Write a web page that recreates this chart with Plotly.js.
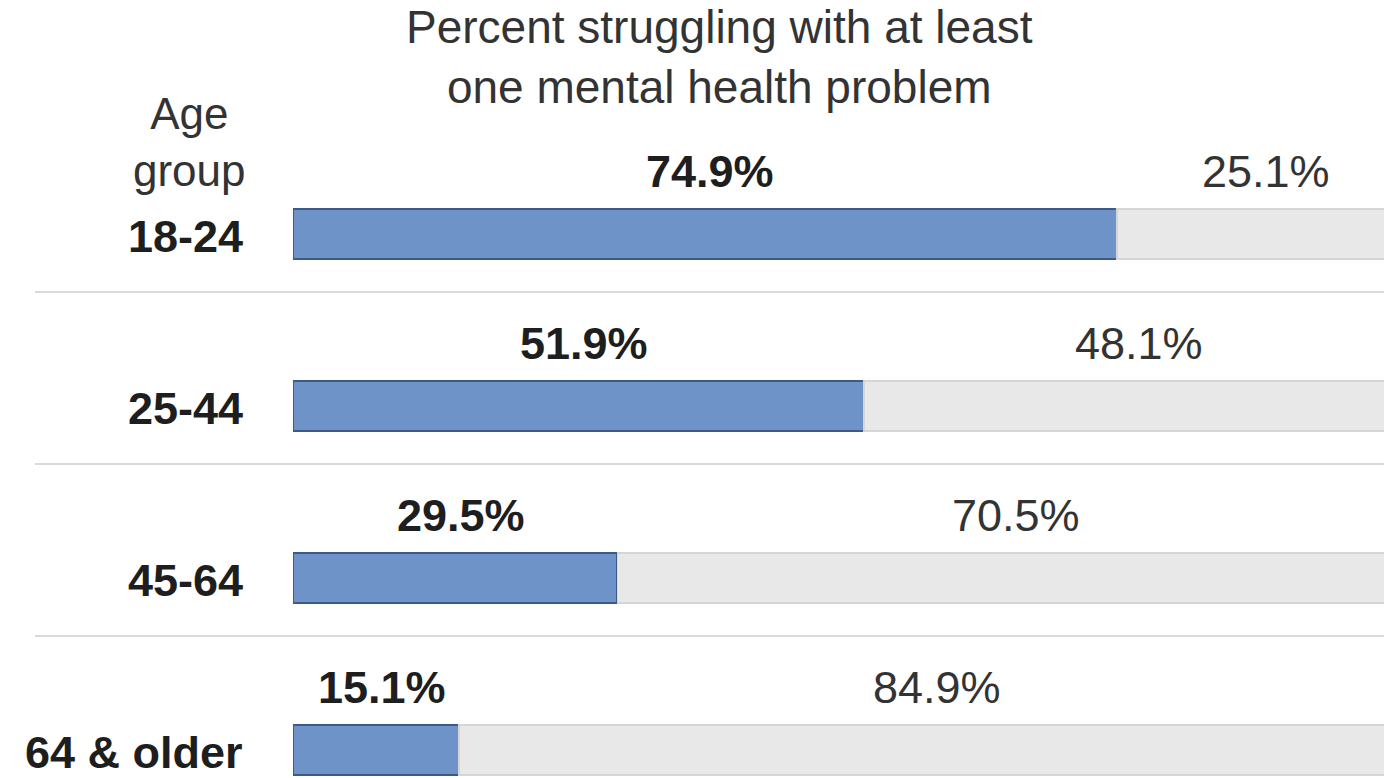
<!DOCTYPE html>
<html>
<head>
<meta charset="utf-8">
<script src="https://cdn.plot.ly/plotly-3.0.1.min.js"></script>
<style>
html,body{margin:0;padding:0;background:#fff;overflow:hidden;}
#chart{width:1384px;height:778px;}
</style>
</head>
<body>
<div id="chart"></div>
<script>
// ---- data ----
const ageGroups = ["18-24", "25-44", "45-64", "64 & older"];
const struggling = [74.9, 51.9, 29.5, 15.1];
const notStruggling = [25.1, 48.1, 70.5, 84.9];
const titleText = "Percent struggling with at least<br>one mental health problem";
const axisHeader = "Age<br>group";

const FONT = "'Liberation Sans', Arial, sans-serif";
const TXT = "#1e1e1e";
const SOFT = "#333333";

const traces = [
  {
    type: "bar", orientation: "h",
    y: ageGroups, x: struggling,
    width: 0.29,
    marker: {color: "#6e93c8", line: {color: "#3d5b85", width: 2}},
    hoverinfo: "skip", showlegend: false
  },
  {
    type: "bar", orientation: "h",
    y: ageGroups, x: notStruggling,
    width: 0.29,
    marker: {color: "#e8e8e9", line: {color: "#d6d6d6", width: 1.5}},
    hoverinfo: "skip", showlegend: false
  }
];

const annotations = [];
ageGroups.forEach((g, i) => {
  // category label
  annotations.push({
    xref: "paper", yref: "y", x: -0.044, y: g, xanchor: "right", yanchor: "middle",
    text: g, showarrow: false, yshift: -3,
    font: {family: FONT, size: 45, color: TXT, weight: "bold"}
  });
  // struggling value label
  annotations.push({
    xref: "x", yref: "y", x: struggling[i] / 2 + 0.5, y: g, xanchor: "center", yanchor: "middle",
    text: struggling[i].toFixed(1) + "%", showarrow: false, yshift: 62,
    font: {family: FONT, size: 45, color: TXT, weight: "bold"}
  });
  // remainder label
  annotations.push({
    xref: "x", yref: "y", x: struggling[i] + notStruggling[i] / 2 + 1, y: g, xanchor: "center", yanchor: "middle",
    text: notStruggling[i].toFixed(1) + "%", showarrow: false, yshift: 62,
    font: {family: FONT, size: 45, color: SOFT}
  });
});
// column header
annotations.push({
  xref: "paper", yref: "paper", x: -0.095, y: 0.888, xanchor: "center", yanchor: "middle",
  text: axisHeader, showarrow: false,
  font: {family: FONT, size: 44, color: SOFT}
});
// chart title
annotations.push({
  xref: "paper", yref: "paper", x: 0.391, y: 1.0063, xanchor: "center", yanchor: "middle",
  text: titleText, showarrow: false,
  font: {family: FONT, size: 46, color: SOFT}
});

const separators = [0.337, 1.337, 2.337];
const shapes = separators.map(v => ({
  type: "line", xref: "paper", yref: "y",
  x0: -0.2365, x1: 1.0, y0: v, y1: v,
  line: {color: "#dadada", width: 2}
}));

const layout = {
  width: 1384, height: 778,
  margin: {l: 293, r: 0, t: 62, b: 0},
  paper_bgcolor: "#ffffff", plot_bgcolor: "#ffffff",
  barmode: "stack",
  xaxis: {range: [0, 99.2], visible: false, fixedrange: true},
  yaxis: {
    type: "category", categoryorder: "array", categoryarray: ageGroups,
    range: [3.163, -1], showticklabels: false, showgrid: false,
    zeroline: false, showline: false, ticks: "", fixedrange: true
  },
  annotations: annotations,
  shapes: shapes
};

Plotly.newPlot("chart", traces, layout, {staticPlot: true, displayModeBar: false});
</script>
</body>
</html>
